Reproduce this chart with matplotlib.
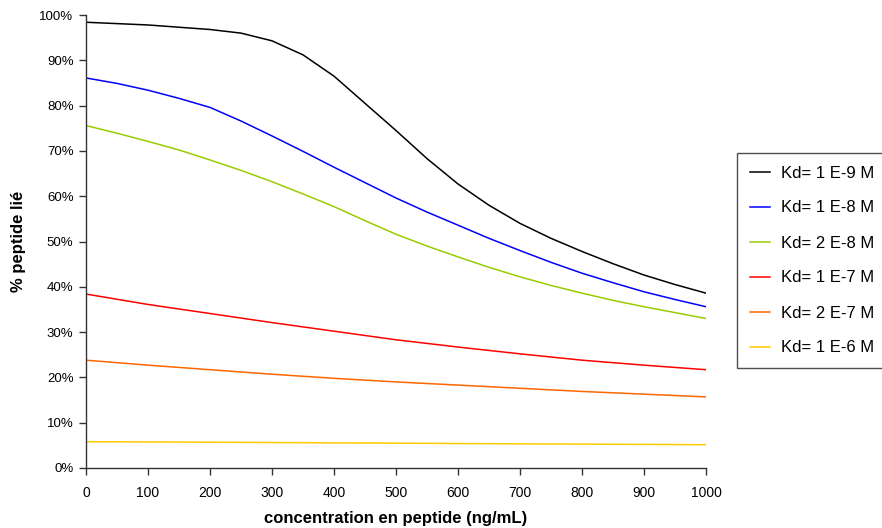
import matplotlib
matplotlib.use("Agg")
import matplotlib.pyplot as plt
from matplotlib.ticker import PercentFormatter

plt.rcParams['font.family'] = ['Liberation Sans', 'DejaVu Sans']

# concentration (ng/mL)
x_fine = [0, 50, 100, 150, 200, 250, 300, 350, 400, 450, 500,
          550, 600, 650, 700, 750, 800, 850, 900, 950, 1000]
x_coarse = [0, 100, 200, 300, 400, 500, 600, 700, 800, 900, 1000]

# % bound
kd_1e9 = [98.4, 98.1, 97.8, 97.3, 96.8, 96.0, 94.3, 91.2, 86.5, 80.5, 74.5,
          68.3, 62.7, 58.0, 54.0, 50.7, 47.8, 45.1, 42.6, 40.5, 38.6]
kd_1e8 = [86.1, 84.9, 83.4, 81.6, 79.6, 76.6, 73.3, 69.9, 66.4, 63.0, 59.6,
          56.5, 53.6, 50.7, 48.0, 45.4, 43.0, 40.9, 38.9, 37.2, 35.6]
kd_2e8 = [75.6, 73.9, 72.1, 70.2, 68.0, 65.7, 63.2, 60.5, 57.7, 54.6, 51.6,
          49.0, 46.6, 44.3, 42.2, 40.3, 38.6, 37.0, 35.6, 34.3, 33.0]
kd_1e7 = [38.4, 36.1, 34.1, 32.1, 30.2, 28.3, 26.7, 25.2, 23.8, 22.7, 21.7]
kd_2e7 = [23.8, 22.7, 21.7, 20.7, 19.8, 19.0, 18.3, 17.6, 16.9, 16.3, 15.7]
kd_1e6 = [5.8, 5.75, 5.7, 5.62, 5.55, 5.48, 5.4, 5.33, 5.27, 5.21, 5.15]

labels = ['Kd= 1 E-9 M', 'Kd= 1 E-8 M', 'Kd= 2 E-8 M',
          'Kd= 1 E-7 M', 'Kd= 2 E-7 M', 'Kd= 1 E-6 M']
colors = ['#000000', '#0000FF', '#99CC00', '#FF0000', '#FF6600', '#FFCC00']

fig = plt.figure(figsize=(8.82, 5.28), dpi=100)
ax = fig.add_axes([86 / 882, 60 / 528, 620 / 882, 453 / 528])

series = [(x_fine, kd_1e9), (x_fine, kd_1e8), (x_fine, kd_2e8),
          (x_coarse, kd_1e7), (x_coarse, kd_2e7), (x_coarse, kd_1e6)]
for (xs, ys), lab, c in zip(series, labels, colors):
    ax.plot(xs, ys, color=c, lw=1.1, label=lab)

ax.set_xlim(0, 1000)
ax.set_ylim(0, 100)
ax.set_xticks(range(0, 1001, 100))
ax.set_yticks(range(0, 101, 10))
ax.yaxis.set_major_formatter(PercentFormatter(decimals=0))
for s in ['top', 'right']:
    ax.spines[s].set_visible(False)
for s in ['left', 'bottom']:
    ax.spines[s].set_color('#333333')
    ax.spines[s].set_linewidth(1.0)
ax.tick_params(direction='out', length=5, width=1, color='#333333')
ax.tick_params(axis='x', labelsize=10, pad=8)
ax.tick_params(axis='y', labelsize=9.5, pad=4)

ax.set_xlabel('concentration en peptide (ng/mL)', fontsize=12,
              fontweight='bold', labelpad=8)
ax.set_ylabel('% peptide lié', fontsize=12, fontweight='bold', labelpad=9.5)

leg = fig.legend(loc='upper left', bbox_to_anchor=(737 / 882, 1 - 153 / 528),
                 fontsize=12, frameon=True, fancybox=False, borderaxespad=0,
                 handlelength=1.2, handletextpad=0.7, labelspacing=1.2,
                 borderpad=0.75)
leg.get_frame().set_edgecolor('#222222')
leg.get_frame().set_linewidth(1.0)

fig.savefig('out.png', dpi=100)
